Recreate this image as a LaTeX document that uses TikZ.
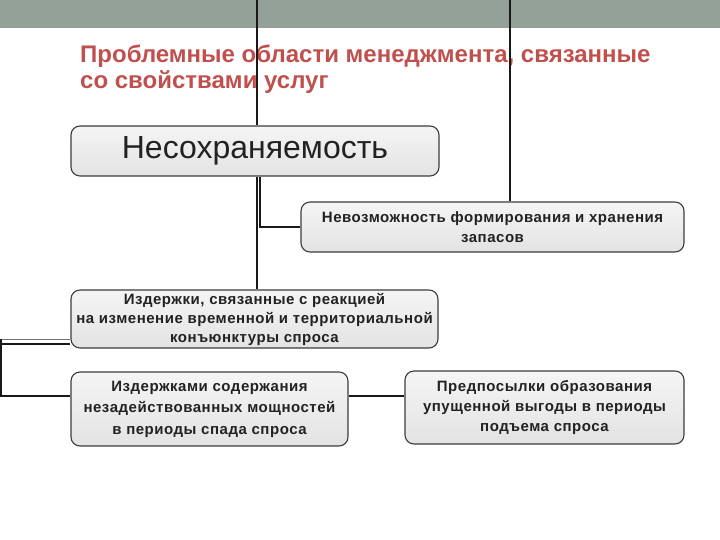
\documentclass[tikz,border=0pt]{standalone}
\usepackage{fontspec}
\setmainfont{Liberation Sans}
\newfontfamily\boxfont[LetterSpace=3.5]{Liberation Sans}
\definecolor{band}{HTML}{93A199}
\definecolor{titlered}{HTML}{C0504D}
\definecolor{boxline}{HTML}{3C3C3C}
\definecolor{txt}{HTML}{222222}
\begin{document}
\begin{tikzpicture}[x=1pt,y=-1pt,
  box/.style={draw=boxline,line width=1.1pt,rounded corners=9pt,top color=white!96!black,bottom color=white!89!black,
    text=txt,align=center,inner sep=0pt},
  conn/.style={draw=black!90,line width=2pt},
  titletext/.style={anchor=base west,inner sep=0pt,text=titlered,font=\bfseries\fontsize{24}{27}\selectfont}]
\useasboundingbox (0,0) rectangle (720,540);
\fill[band] (0,0) rectangle (720,28);
\node[titletext] (title1) at (80,63) {Проблемные области менеджмента, связанные};
\node[titletext] (title2) at (80,89) {со свойствами услуг};

\node[box,minimum width=368pt,minimum height=50pt,font=\fontsize{32}{36}\selectfont] (b1) at (255,151) {Несохраняемость};
\node[box,minimum width=383pt,minimum height=50pt,font=\boxfont\bfseries\fontsize{15}{20}\selectfont] (b2) at (492.5,227) {Невозможность формирования и хранения\\запасов};
\node[box,minimum width=367pt,minimum height=58pt,font=\boxfont\bfseries\fontsize{15}{19}\selectfont] (b3) at (254.5,319) {Издержки, связанные с реакцией\\на изменение временной и территориальной\\конъюнктуры спроса};
\node[box,minimum width=277pt,minimum height=74pt,font=\boxfont\bfseries\fontsize{15}{21.5}\selectfont] (b4) at (209.5,409) {Издержками содержания\\незадействованных мощностей\\в периоды спада спроса};
\node[box,minimum width=279pt,minimum height=73pt,font=\boxfont\bfseries\fontsize{15}{20}\selectfont] (b5) at (544.5,407.5) {Предпосылки образования\\упущенной выгоды в периоды\\подъема спроса};

\coordinate (t1) at (257,0);
\coordinate (t2) at (510,0);
\coordinate (lft) at (1,0);
\draw[conn] (t1) -- (t1 |- b1.north);
\draw[conn] (t2) -- (t2 |- b2.north);
\draw[conn] (b1.south -| t1) -- (b3.north -| t1);
\draw[conn] ([xshift=3pt]b1.south -| t1) |- (b2.west);
\draw[draw=black!55,line width=1pt] ([yshift=-20pt]b3.west) -- ([yshift=-20pt]b3.west -| lft);
\draw[conn] ([yshift=-25pt]b3.west) -- ([yshift=-25pt]b3.west -| lft);
\draw[conn] ([yshift=-19.5pt]b3.west -| lft) -- ([yshift=13pt]b4.west -| lft) -- ([yshift=13pt]b4.west);
\draw[conn] ([yshift=13pt]b4.east) -- ([yshift=13pt]b4.east -| b5.west);
\end{tikzpicture}
\end{document}
